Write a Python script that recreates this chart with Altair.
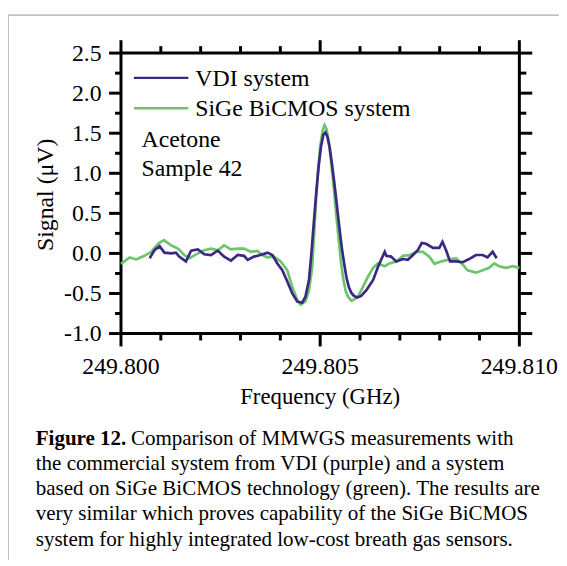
import altair as alt
import pandas as pd

# ---------------- data ----------------
vdi_freq = [249.80072, 249.80084, 249.80097, 249.80109, 249.80126, 249.80138, 249.80146, 249.80163,
            249.80176, 249.80193, 249.80209, 249.80226, 249.80243, 249.80259, 249.80276, 249.80293,
            249.80309, 249.80318, 249.80334, 249.80350, 249.803675, 249.80380, 249.803925, 249.80405,
            249.804175, 249.80430, 249.804425, 249.80455, 249.80463, 249.80472, 249.80478, 249.80484,
            249.80490, 249.80496, 249.80502, 249.80508, 249.80513, 249.80518, 249.80524, 249.80530,
            249.80536, 249.80542, 249.80548, 249.80554, 249.80560, 249.80566, 249.80572, 249.80578,
            249.80585, 249.80593, 249.80603, 249.80616, 249.80633, 249.80645, 249.80653, 249.80662,
            249.80666, 249.80678, 249.80691, 249.80708, 249.80720, 249.80733, 249.80745, 249.80755,
            249.80766, 249.80783, 249.80799, 249.80807, 249.80816, 249.80826, 249.80841, 249.80858,
            249.80874, 249.80891, 249.80908, 249.80920, 249.80933, 249.80943]
vdi_signal = [-0.06, 0.04, 0.09, 0.01, 0.00, 0.01, -0.04, -0.10,
              0.035, 0.05, -0.01, -0.02, 0.035, -0.04, -0.09, -0.02,
              -0.03, -0.08, -0.04, -0.02, 0.01, -0.02, -0.125, -0.21,
              -0.35, -0.50, -0.60, -0.615, -0.54, -0.33, 0.00, 0.38,
              0.75, 1.08, 1.33, 1.48, 1.51, 1.46, 1.32, 1.10,
              0.86, 0.60, 0.33, 0.08, -0.12, -0.30, -0.42, -0.49,
              -0.53, -0.55, -0.53, -0.46, -0.33, -0.17, -0.08, 0.02,
              -0.03, -0.04, -0.10, -0.07, -0.08, -0.02, 0.04, 0.13,
              0.12, 0.07, 0.07, 0.145, 0.04, -0.10, -0.10, -0.11,
              -0.07, -0.02, -0.02, -0.05, 0.02, -0.06]

sige_freq = [249.80000, 249.80022, 249.80038, 249.80059, 249.80076, 249.80093, 249.801075, 249.80126,
             249.80143, 249.80159, 249.80172, 249.80193, 249.80209, 249.80226, 249.80243, 249.80259,
             249.80276, 249.80293, 249.80309, 249.80326, 249.80342, 249.80355, 249.803675, 249.80384,
             249.80401, 249.804175, 249.80430, 249.804425, 249.80451, 249.80463, 249.80472, 249.80480,
             249.80485, 249.80490, 249.80495, 249.80500, 249.80506, 249.80511, 249.80516, 249.80522,
             249.80528, 249.80534, 249.80540, 249.80546, 249.80552, 249.80558, 249.80564, 249.80570,
             249.80578, 249.80584, 249.80595, 249.80607, 249.80620, 249.80633, 249.80645, 249.80662,
             249.80674, 249.80691, 249.80708, 249.80725, 249.80741, 249.80758, 249.80774, 249.80787,
             249.80803, 249.80820, 249.80841, 249.80858, 249.80870, 249.80891, 249.80908, 249.80924,
             249.80937, 249.80949, 249.80966, 249.80983, 249.81000]
sige_signal = [-0.13, -0.05, -0.075, -0.03, 0.02, 0.12, 0.165, 0.10,
               0.06, -0.02, -0.06, 0.00, 0.04, 0.06, 0.04, 0.10,
               0.05, 0.06, 0.06, 0.02, 0.03, -0.02, -0.05, -0.04,
               -0.10, -0.21, -0.42, -0.58, -0.64, -0.60, -0.46, -0.17,
               0.25, 0.70, 1.05, 1.33, 1.53, 1.60, 1.55, 1.38,
               1.12, 0.82, 0.50, 0.20, -0.10, -0.32, -0.47, -0.54,
               -0.59, -0.58, -0.54, -0.42, -0.29, -0.18, -0.125, -0.16,
               -0.125, -0.10, -0.03, -0.02, 0.02, 0.02, -0.04, -0.13,
               -0.10, -0.08, -0.06, -0.14, -0.21, -0.24, -0.21, -0.18,
               -0.125, -0.16, -0.18, -0.16, -0.18]

x_major = [249.800, 249.805, 249.810]
x_minor = [249.801, 249.802, 249.803, 249.804, 249.806, 249.807, 249.808, 249.809]
x_labels = ["249.800", "249.805", "249.810"]
y_major = [-1.0, -0.5, 0.0, 0.5, 1.0, 1.5, 2.0, 2.5]
y_minor = [-0.75, -0.25, 0.25, 0.75, 1.25, 1.75, 2.25]
y_labels = ["-1.0", "-0.5", "0.0", "0.5", "1.0", "1.5", "2.0", "2.5"]

x_title = "Frequency (GHz)"
y_title = "Signal (μV)"
series_names = ["VDI system", "SiGe BiCMOS system"]
series_colors = ["#3b2882", "#6cc56a"]
annotation_lines = ["Acetone", "Sample 42"]
caption_bold = "Figure 12."
caption_first = "Comparison of MMWGS measurements with"
caption_rest = [
    "the commercial system from VDI (purple) and a system",
    "based on SiGe BiCMOS technology (green). The results are",
    "very similar which proves capability of the SiGe BiCMOS",
    "system for highly integrated low-cost breath gas sensors.",
]

# ---------------- chart ----------------
FONT = "Liberation Serif"
W, H = 402, 283

xs = alt.Scale(domain=[249.800, 249.810], nice=False, zero=False)
ys = alt.Scale(domain=[-1.0, 2.5], nice=False, zero=False)

vdi_df = pd.DataFrame({"freq": vdi_freq, "signal": vdi_signal})
sige_df = pd.DataFrame({"freq": sige_freq, "signal": sige_signal})


def series_line(df, color):
    return alt.Chart(df).mark_line(strokeWidth=2.7, color=color).encode(
        x=alt.X("freq:Q", scale=xs, axis=None),
        y=alt.Y("signal:Q", scale=ys, axis=None),
    )


def xticks(vals, y0, y1):
    return alt.Chart(pd.DataFrame({"t": vals})).mark_rule(color="black", strokeWidth=3).encode(
        x=alt.X("t:Q", scale=xs, axis=None), y=alt.value(y0), y2=alt.value(y1))


def yticks(vals, x0, x1):
    return alt.Chart(pd.DataFrame({"t": vals})).mark_rule(color="black", strokeWidth=3).encode(
        y=alt.Y("t:Q", scale=ys, axis=None), x=alt.value(x0), x2=alt.value(x1))


ticks = [
    xticks(x_major, H, H + 13), xticks(x_minor, H, H + 7),
    xticks(x_major, 0, -13), xticks(x_minor, 0, -7),
    yticks(y_major, 0, -12), yticks(y_minor, 0, -6),
    yticks(y_major, W, W + 13), yticks(y_minor, W, W + 7),
]

x_tick_labels = alt.Chart(pd.DataFrame({"t": x_major, "lab": x_labels})).mark_text(
    font=FONT, fontSize=24, align="center", baseline="alphabetic", color="black"
).encode(x=alt.X("t:Q", scale=xs, axis=None), y=alt.value(323.5), text="lab:N")

y_tick_labels = alt.Chart(pd.DataFrame({"t": y_major, "lab": y_labels})).mark_text(
    font=FONT, fontSize=24, align="right", baseline="alphabetic", dy=8, color="black"
).encode(y=alt.Y("t:Q", scale=ys, axis=None), x=alt.value(-19.5), text="lab:N")


def text(txt, x, y, size=24, weight="normal", align="left", baseline="alphabetic", angle=0):
    return alt.Chart(pd.DataFrame({"t": [txt]})).mark_text(
        font=FONT, fontSize=size, fontWeight=weight, align=align, baseline=baseline,
        angle=angle, color="black"
    ).encode(text="t:N", x=alt.value(x), y=alt.value(y))


def hline(x0, x1, y, color, width):
    return alt.Chart(pd.DataFrame({"a": [0]})).mark_rule(color=color, strokeWidth=width).encode(
        x=alt.value(x0), x2=alt.value(x1), y=alt.value(y))


titles = [
    text(x_title, W / 2, 354, size=23, align="center"),
    text(y_title, -69, 143, size=24, align="center", angle=270),
]

# legend (manual)
legend = [
    hline(13, 68, 25, series_colors[0], 2.5),
    text(series_names[0], 75, 33),
    hline(13, 68, 55.7, series_colors[1], 2.5),
    text(series_names[1], 75, 63.6),
    text(annotation_lines[0], 20.7, 95),
    text(annotation_lines[1], 20.7, 123.6),
]

# caption
cap_size = 21.2
cap_x = -86
cap_y = [395, 420.5, 446, 471.5, 497]
caption = [
    text(caption_bold, cap_x, cap_y[0], size=cap_size, weight="bold"),
    text(caption_first, 10, cap_y[0], size=cap_size),
] + [text(line, cap_x, cy, size=cap_size) for line, cy in zip(caption_rest, cap_y[1:])]

# light gray frame of the figure panel
frame = [
    alt.Chart(pd.DataFrame({"a": [0]})).mark_rule(color="#c4c4c4", strokeWidth=1.7).encode(
        x=alt.value(-113.8), y=alt.value(-38.3), y2=alt.value(H + 240)),
    hline(-114.6, W + 60, -38.3, "#c4c4c4", 1.7),
]

chart = alt.layer(
    *frame, series_line(sige_df, series_colors[1]), series_line(vdi_df, series_colors[0]),
    *ticks, x_tick_labels, y_tick_labels, *titles, *legend, *caption
).properties(
    width=W, height=H,
    autosize=alt.AutoSizeParams(type="none"),
    padding={"left": 114, "top": 43, "right": 40, "bottom": 226},
).configure_view(
    stroke="black", strokeWidth=3
)

chart.save("out.html", embed_options={"renderer": "svg", "actions": False})
